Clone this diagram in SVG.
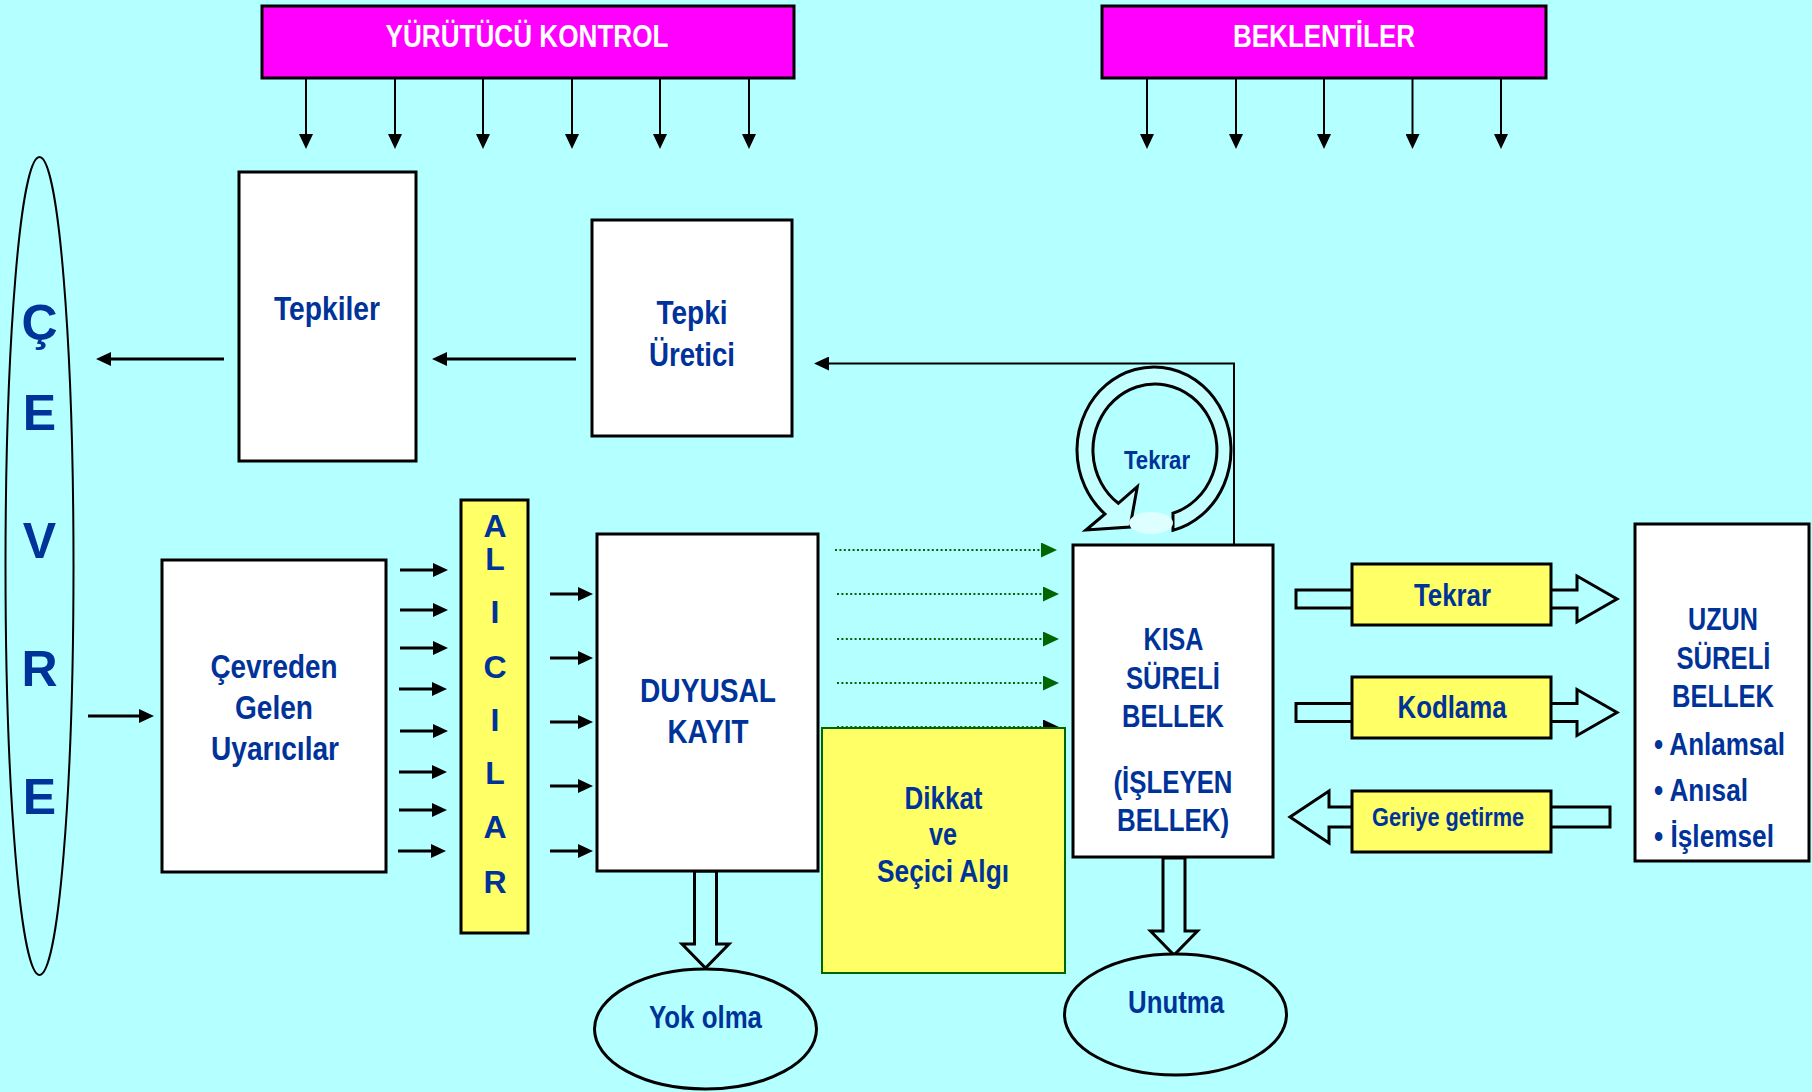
<svg xmlns="http://www.w3.org/2000/svg" width="1812" height="1092" viewBox="0 0 1812 1092">
<defs>
<style>
.t{font-family:"Liberation Sans Narrow","Liberation Sans",Arial,sans-serif;font-weight:bold;fill:#003399;text-anchor:middle}
.w{fill:#ffffff}
.box{fill:#ffffff;stroke:#000;stroke-width:3}
.yel{fill:#FFFF66;stroke:#000;stroke-width:3}
.mag{fill:#FF00FF;stroke:#000;stroke-width:3}
.ell{fill:#B4FFFF;stroke:#000;stroke-width:3}
.blk{fill:#B4FFFF;stroke:#000;stroke-width:3;stroke-linejoin:miter}
.a2{stroke:#000;stroke-width:2;fill:none;marker-end:url(#ah)}
.a3{stroke:#000;stroke-width:3;fill:none;marker-end:url(#ah)}
.g{stroke:#006600;stroke-width:2.2;stroke-dasharray:2 2.4;fill:none;marker-end:url(#gh)}
</style>
<marker id="ah" markerUnits="userSpaceOnUse" viewBox="0 0 15 14" markerWidth="15" markerHeight="14" refX="10" refY="7" orient="auto"><path d="M0,0 L15,7 L0,14 z" fill="#000"/></marker>
<marker id="gh" markerUnits="userSpaceOnUse" viewBox="0 0 16 15" markerWidth="16" markerHeight="15" refX="11" refY="7.5" orient="auto"><path d="M0,0 L16,7.5 L0,15 z" fill="#006600"/></marker>
<marker id="kh" markerUnits="userSpaceOnUse" viewBox="0 0 16 15" markerWidth="16" markerHeight="15" refX="11" refY="7.5" orient="auto"><path d="M0,0 L16,7.5 L0,15 z" fill="#000"/></marker>
</defs>
<rect x="0" y="0" width="1812" height="1092" fill="#B4FFFF"/>

<g id="connectors">
  <!-- Yürütücü kontrol arrows -->
  <line class="a2" x1="306" y1="78" x2="306" y2="144"/>
  <line class="a2" x1="395" y1="78" x2="395" y2="144"/>
  <line class="a2" x1="483" y1="78" x2="483" y2="144"/>
  <line class="a2" x1="572" y1="78" x2="572" y2="144"/>
  <line class="a2" x1="660" y1="78" x2="660" y2="144"/>
  <line class="a2" x1="749" y1="78" x2="749" y2="144"/>
  <!-- Beklentiler arrows -->
  <line class="a2" x1="1147" y1="78" x2="1147" y2="144"/>
  <line class="a2" x1="1236" y1="78" x2="1236" y2="144"/>
  <line class="a2" x1="1324" y1="78" x2="1324" y2="144"/>
  <line class="a2" x1="1412.5" y1="78" x2="1412.5" y2="144"/>
  <line class="a2" x1="1501" y1="78" x2="1501" y2="144"/>
  <!-- responses -->
  <line class="a3" x1="576" y1="359" x2="437" y2="359"/>
  <line class="a3" x1="224" y1="359" x2="101" y2="359"/>
  <path class="a2" d="M1234,545 V363.5 H819"/>
  <!-- environment input -->
  <line class="a3" x1="88" y1="716" x2="149" y2="716"/>
  <!-- to receptors -->
  <line class="a3" x1="400" y1="570" x2="443" y2="570"/>
  <line class="a3" x1="400" y1="610" x2="443" y2="610"/>
  <line class="a3" x1="400" y1="648" x2="443" y2="648"/>
  <line class="a3" x1="399" y1="689" x2="442" y2="689"/>
  <line class="a3" x1="400" y1="731" x2="443" y2="731"/>
  <line class="a3" x1="399" y1="772" x2="442" y2="772"/>
  <line class="a3" x1="399" y1="810" x2="442" y2="810"/>
  <line class="a3" x1="398" y1="851" x2="441" y2="851"/>
  <!-- receptors to sensory register -->
  <line class="a3" x1="550" y1="594" x2="588" y2="594"/>
  <line class="a3" x1="550" y1="658" x2="588" y2="658"/>
  <line class="a3" x1="550" y1="722" x2="588" y2="722"/>
  <line class="a3" x1="550" y1="786" x2="588" y2="786"/>
  <line class="a3" x1="550" y1="851" x2="588" y2="851"/>
  <!-- dotted attention arrows -->
  <line class="g" x1="835" y1="550" x2="1052" y2="550"/>
  <line class="g" x1="837" y1="594" x2="1054" y2="594"/>
  <line class="g" x1="837" y1="639" x2="1054" y2="639"/>
  <line class="g" x1="837" y1="683" x2="1054" y2="683"/>
  <line class="g" x1="837" y1="727" x2="1054" y2="727" style="marker-end:url(#kh)"/>
  <!-- block arrows -->
  <path class="blk" d="M694.5,871 V944 H682 L705.5,968 L729,944 H716.5 V871 Z"/>
  <path class="blk" d="M1163,858 V931 H1150.5 L1174,955 L1197.5,931 H1185 V858 Z"/>
  <path class="blk" d="M1296,590 H1577 V576 L1617,599 L1577,622 V608 H1296 Z"/>
  <path class="blk" d="M1296,703.5 H1577 V689.5 L1617,712.5 L1577,735.5 V721.5 H1296 Z"/>
  <path class="blk" d="M1610,807 H1329 V791 L1290,817 L1329,843 V827 H1610 Z"/>
  <!-- rehearsal loop -->
  <path d="M1173,530.4 A77,83 0 1 0 1105,514 L1086,530 L1130,527 L1137.3,486.7 L1118.3,503.3 A62,66 0 1 1 1173,513.2 Z" fill="#C4FFFF" stroke="#000" stroke-width="3" stroke-linejoin="miter"/>
  <ellipse cx="1151" cy="523" rx="22" ry="11" fill="#DDFFFF"/>
  <text class="t" x="1157" y="469" font-size="26" textLength="66" lengthAdjust="spacingAndGlyphs">Tekrar</text>
</g>

<g id="cevre">
  <ellipse cx="39.5" cy="566" rx="34" ry="409" fill="none" stroke="#000" stroke-width="2"/>
  <text class="t" x="39.5" y="340" font-size="50">Ç</text>
  <text class="t" x="39.5" y="430" font-size="50">E</text>
  <text class="t" x="39.5" y="558" font-size="50">V</text>
  <text class="t" x="39.5" y="686" font-size="50">R</text>
  <text class="t" x="39.5" y="814" font-size="50">E</text>
</g>

<g id="yurutucu-kontrol">
  <rect class="mag" x="262" y="6" width="532" height="72"/>
  <text class="t w" x="527" y="47" font-size="32" textLength="283" lengthAdjust="spacingAndGlyphs">YÜRÜTÜCÜ KONTROL</text>
</g>

<g id="beklentiler">
  <rect class="mag" x="1102" y="6" width="444" height="72"/>
  <text class="t w" x="1324" y="47" font-size="32" textLength="182" lengthAdjust="spacingAndGlyphs">BEKLENTİLER</text>
</g>

<g id="tepkiler">
  <rect class="box" x="239" y="172" width="177" height="289"/>
  <text class="t" x="327" y="320" font-size="34" textLength="106" lengthAdjust="spacingAndGlyphs">Tepkiler</text>
</g>

<g id="tepki-uretici">
  <rect class="box" x="592" y="220" width="200" height="216"/>
  <text class="t" x="692" y="324" font-size="34" textLength="71" lengthAdjust="spacingAndGlyphs">Tepki</text>
  <text class="t" x="692" y="366" font-size="34" textLength="86" lengthAdjust="spacingAndGlyphs">Üretici</text>
</g>

<g id="cevreden-gelen">
  <rect class="box" x="162" y="560" width="224" height="312"/>
  <text class="t" x="274" y="678" font-size="34" textLength="127" lengthAdjust="spacingAndGlyphs">Çevreden</text>
  <text class="t" x="274" y="719" font-size="34" textLength="78" lengthAdjust="spacingAndGlyphs">Gelen</text>
  <text class="t" x="275" y="760" font-size="34" textLength="128" lengthAdjust="spacingAndGlyphs">Uyarıcılar</text>
</g>

<g id="alicilar">
  <rect class="yel" x="461" y="500" width="67" height="433"/>
  <text class="t" x="495" y="537" font-size="32">A</text>
  <text class="t" x="495" y="570" font-size="32">L</text>
  <text class="t" x="495" y="623" font-size="32">I</text>
  <text class="t" x="495" y="678" font-size="32">C</text>
  <text class="t" x="495" y="731" font-size="32">I</text>
  <text class="t" x="495" y="784" font-size="32">L</text>
  <text class="t" x="495" y="838" font-size="32">A</text>
  <text class="t" x="495" y="893" font-size="32">R</text>
</g>

<g id="duyusal-kayit">
  <rect class="box" x="597" y="534" width="221" height="337"/>
  <text class="t" x="708" y="702" font-size="34" textLength="136" lengthAdjust="spacingAndGlyphs">DUYUSAL</text>
  <text class="t" x="708" y="743" font-size="34" textLength="81" lengthAdjust="spacingAndGlyphs">KAYIT</text>
</g>

<g id="dikkat">
  <rect x="822" y="728" width="243" height="245" fill="#FFFF66" stroke="#006600" stroke-width="2"/>
  <text class="t" x="943.5" y="809" font-size="31" textLength="78" lengthAdjust="spacingAndGlyphs">Dikkat</text>
  <text class="t" x="943" y="845" font-size="31" textLength="28" lengthAdjust="spacingAndGlyphs">ve</text>
  <text class="t" x="943" y="882" font-size="31" textLength="132" lengthAdjust="spacingAndGlyphs">Seçici Algı</text>
</g>

<g id="yok-olma">
  <ellipse class="ell" cx="705.5" cy="1029" rx="111" ry="60"/>
  <text class="t" x="705.5" y="1028" font-size="31" textLength="113" lengthAdjust="spacingAndGlyphs">Yok olma</text>
</g>

<g id="kisa-sureli-bellek">
  <rect class="box" x="1073" y="545" width="200" height="312"/>
  <text class="t" x="1173.5" y="650" font-size="31" textLength="60" lengthAdjust="spacingAndGlyphs">KISA</text>
  <text class="t" x="1173" y="689" font-size="31" textLength="94" lengthAdjust="spacingAndGlyphs">SÜRELİ</text>
  <text class="t" x="1173" y="727" font-size="31" textLength="102" lengthAdjust="spacingAndGlyphs">BELLEK</text>
  <text class="t" x="1173" y="793" font-size="31" textLength="119" lengthAdjust="spacingAndGlyphs">(İŞLEYEN</text>
  <text class="t" x="1173" y="831" font-size="31" textLength="112" lengthAdjust="spacingAndGlyphs">BELLEK)</text>
</g>

<g id="unutma">
  <ellipse class="ell" cx="1175.5" cy="1014.5" rx="111" ry="60.5"/>
  <text class="t" x="1176" y="1013" font-size="31" textLength="96" lengthAdjust="spacingAndGlyphs">Unutma</text>
</g>

<g id="tekrar">
  <rect class="yel" x="1352" y="564" width="199" height="61"/>
  <text class="t" x="1452.5" y="606" font-size="31" textLength="77" lengthAdjust="spacingAndGlyphs">Tekrar</text>
</g>

<g id="kodlama">
  <rect class="yel" x="1352" y="677" width="199" height="61"/>
  <text class="t" x="1452" y="718" font-size="31" textLength="109" lengthAdjust="spacingAndGlyphs">Kodlama</text>
</g>

<g id="geriye-getirme">
  <rect class="yel" x="1352" y="791" width="199" height="61"/>
  <text class="t" x="1448" y="826" font-size="26" textLength="152" lengthAdjust="spacingAndGlyphs">Geriye getirme</text>
</g>

<g id="uzun-sureli-bellek">
  <rect class="box" x="1635" y="524" width="174" height="337"/>
  <text class="t" x="1723" y="630" font-size="31" textLength="70" lengthAdjust="spacingAndGlyphs">UZUN</text>
  <text class="t" x="1723.5" y="669" font-size="31" textLength="94" lengthAdjust="spacingAndGlyphs">SÜRELİ</text>
  <text class="t" x="1723" y="707" font-size="31" textLength="102" lengthAdjust="spacingAndGlyphs">BELLEK</text>
  <text class="t" x="1654" y="755" font-size="31" style="text-anchor:start" textLength="131" lengthAdjust="spacingAndGlyphs">• Anlamsal</text>
  <text class="t" x="1654" y="801" font-size="31" style="text-anchor:start" textLength="94" lengthAdjust="spacingAndGlyphs">• Anısal</text>
  <text class="t" x="1654" y="847" font-size="31" style="text-anchor:start" textLength="120" lengthAdjust="spacingAndGlyphs">• İşlemsel</text>
</g>
</svg>
